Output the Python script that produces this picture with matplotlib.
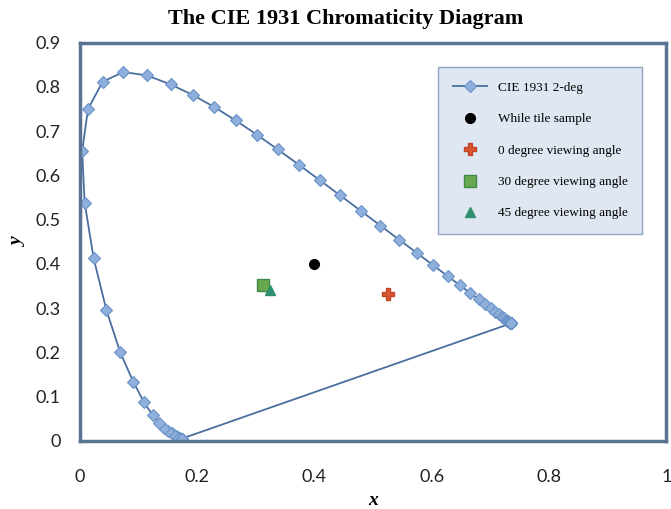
import matplotlib.pyplot as plt

# CIE 1931 2-deg spectral locus, 380-780 nm in 5 nm steps
cie_x = [0.1741, 0.1740, 0.1738, 0.1736, 0.1733, 0.1730, 0.1726, 0.1721,
         0.1714, 0.1703, 0.1689, 0.1669, 0.1644, 0.1611, 0.1566, 0.1510,
         0.1440, 0.1355, 0.1241, 0.1096, 0.0913, 0.0687, 0.0454, 0.0235,
         0.0082, 0.0039, 0.0139, 0.0389, 0.0743, 0.1142, 0.1547, 0.1929,
         0.2296, 0.2658, 0.3016, 0.3373, 0.3731, 0.4087, 0.4441, 0.4788,
         0.5125, 0.5448, 0.5752, 0.6029, 0.6270, 0.6482, 0.6658, 0.6801,
         0.6915, 0.7006, 0.7079, 0.7140, 0.7190, 0.7230, 0.7260, 0.7283,
         0.7300, 0.7311, 0.7320, 0.7327, 0.7334, 0.7340, 0.7344, 0.7346,
         0.7347, 0.7347, 0.7347, 0.7347, 0.7347, 0.7347, 0.7347, 0.7347,
         0.7347, 0.7347, 0.7347, 0.7347, 0.7347, 0.7347, 0.7347, 0.7347,
         0.7347, 0.1741]
cie_y = [0.0050, 0.0050, 0.0049, 0.0049, 0.0048, 0.0048, 0.0048, 0.0048,
         0.0051, 0.0058, 0.0069, 0.0086, 0.0109, 0.0138, 0.0177, 0.0227,
         0.0297, 0.0399, 0.0578, 0.0868, 0.1327, 0.2007, 0.2950, 0.4127,
         0.5384, 0.6548, 0.7502, 0.8120, 0.8338, 0.8262, 0.8059, 0.7816,
         0.7543, 0.7243, 0.6923, 0.6589, 0.6245, 0.5896, 0.5547, 0.5202,
         0.4866, 0.4544, 0.4242, 0.3965, 0.3725, 0.3514, 0.3340, 0.3197,
         0.3083, 0.2993, 0.2920, 0.2859, 0.2809, 0.2770, 0.2740, 0.2717,
         0.2700, 0.2689, 0.2680, 0.2673, 0.2666, 0.2660, 0.2656, 0.2654,
         0.2653, 0.2653, 0.2653, 0.2653, 0.2653, 0.2653, 0.2653, 0.2653,
         0.2653, 0.2653, 0.2653, 0.2653, 0.2653, 0.2653, 0.2653, 0.2653,
         0.2653, 0.0050]

# measured samples (x, y)
white_tile = [0.400, 0.400]
angle_0 = [0.525, 0.332]
angle_30 = [0.313, 0.353]
angle_45 = [0.324, 0.342]

x_ticks = [0, 0.2, 0.4, 0.6, 0.8, 1.0]
x_labels = ['0', '0.2', '0.4', '0.6', '0.8', '1']
y_ticks = [0, 0.1, 0.2, 0.3, 0.4, 0.5, 0.6, 0.7, 0.8, 0.9]
y_labels = ['0', '0.1', '0.2', '0.3', '0.4', '0.5', '0.6', '0.7', '0.8', '0.9']

fig = plt.figure(figsize=(6.71, 5.09), dpi=100)
ax = fig.add_axes([0.119, 0.134, 0.874, 0.782])

ax.plot(cie_x, cie_y, '-D', color='#4a6f9f', lw=1.3, ms=6,
        mfc='#8fb0dc', mec='#6a92c8', mew=0.8, label='CIE 1931 2-deg')
ax.plot(white_tile[0], white_tile[1], 'o', color='black', ms=7,
        label='While tile sample')
ax.plot(angle_0[0], angle_0[1], 'P', color='#d9572e', ms=8, mec='#c4452a',
        label='0 degree viewing angle')
ax.plot(angle_30[0], angle_30[1], 's', color='#6aa84f', ms=9, mec='#3f8a4a',
        label='30 degree viewing angle')
ax.plot(angle_45[0], angle_45[1], '^', color='#2f8f6f', ms=7,
        label='45 degree viewing angle')

ax.set_xlim(0, 1)
ax.set_ylim(0, 0.9)
ax.set_xticks(x_ticks, x_labels)
ax.set_yticks(y_ticks, y_labels)
ax.tick_params(length=0, labelsize=13, pad=14)
ax.tick_params(axis='x', pad=20)
for lab in ax.get_xticklabels() + ax.get_yticklabels():
    lab.set_fontfamily('Lato')
    lab.set_color('#222222')

for s in ax.spines.values():
    s.set_color('#5b7393')
    s.set_linewidth(2.5)

leg = ax.legend(loc='upper left', bbox_to_anchor=(0.6, 0.955),
                prop={'family': 'Liberation Serif', 'size': 9.5},
                labelspacing=1.45, handlelength=2.6, borderpad=1.1,
                fancybox=False, framealpha=1)
leg.get_frame().set_facecolor('#dfe7f2')
leg.get_frame().set_edgecolor('#8ea3c0')

fig.text(0.515, 0.962, 'The CIE 1931 Chromaticity Diagram', ha='center',
         va='center', family='Liberation Serif', weight='bold', fontsize=16)
fig.text(0.556, 0.0, 'x', ha='center', va='bottom', family='Liberation Serif',
         style='italic', weight='bold', fontsize=14)
fig.text(0.027, 0.525, 'y', ha='center', va='center', rotation=90,
         family='Liberation Serif', style='italic', weight='bold', fontsize=14)

fig.savefig('out.png')
